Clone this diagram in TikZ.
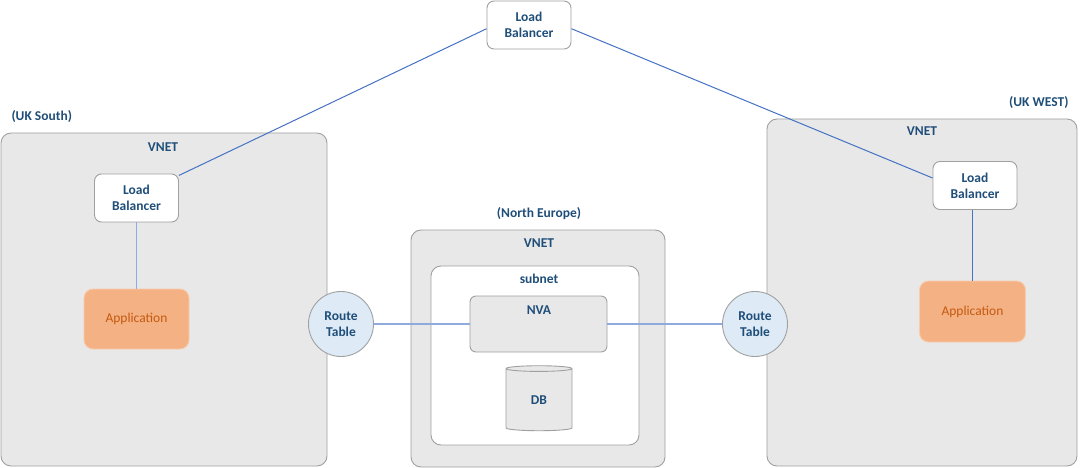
\documentclass[tikz,border=0pt]{standalone}
\usepackage{fontspec}
\setmainfont{Carlito}
\usetikzlibrary{shapes.geometric}
\definecolor{txtblue}{HTML}{1F4E79}
\definecolor{vnetgray}{HTML}{E8E8E8}
\definecolor{edgegray}{HTML}{A0A0A0}
\definecolor{appfill}{HTML}{F4B183}
\definecolor{appedge}{HTML}{F8CBAD}
\definecolor{apptxt}{HTML}{C55A11}
\definecolor{rtfill}{HTML}{DEEBF7}
\definecolor{linkblue}{HTML}{4472C4}
\definecolor{linklight}{HTML}{8FAADC}
\begin{document}
\begin{tikzpicture}[
    x=1pt, y=-1pt,
    every node/.style={font=\fontsize{13.5}{16}\selectfont\bfseries, text=txtblue, align=center},
    region/.style={
        rectangle,
        rounded corners=10pt,
        draw=edgegray,
        line width=0.9pt,
        fill=#1
    },
    region/.default=vnetgray,
    lb/.style={
        rectangle,
        rounded corners=7pt,
        minimum width=84pt,
        minimum height=48pt,
        draw=edgegray,
        line width=0.9pt,
        fill=white
    },
    app/.style={
        rectangle,
        rounded corners=9pt,
        minimum width=105pt,
        minimum height=60pt,
        draw=appedge,
        line width=0.9pt,
        fill=appfill,
        font=\fontsize{13.5}{16}\selectfont,
        text=apptxt
    },
    rt/.style={
        circle,
        minimum size=65pt,
        inner sep=0pt,
        draw=edgegray,
        line width=0.9pt,
        fill=rtfill
    },
    link/.style={draw=linkblue, line width=1pt},
    route/.style={draw=linklight, line width=1.6pt}
]
\useasboundingbox (0,0) rectangle (1080,468);

% regions
\node[region, minimum width=326pt, minimum height=333pt] (vnetS) at (164,299.5) {};
\node[region, minimum width=254pt, minimum height=237pt] (vnetN) at (538,348.5) {};
\node[region=white, minimum width=208pt, minimum height=179pt] (subnet) at (535,355.5) {};
\node[region, rounded corners=6pt, minimum width=137pt, minimum height=56pt] (nva) at (538.5,324) {};
\node[region, minimum width=310pt, minimum height=347pt] (vnetW) at (922,292.5) {};

\node[anchor=west] (locS) at (8,117) {(UK South)};
\node (locN) at (539,214) {(North Europe)};
\node[anchor=east] (locW) at (1072,103) {(UK WEST)};

\node (vnetStxt) at (163,147) {VNET};
\node (vnetNtxt) at (539,243) {VNET};
\node (vnetWtxt) at (922,131) {VNET};
\node (subnettxt) at (539,279) {subnet};
\node (nvatxt) at (539,310) {NVA};

% nodes
\node[lb] (lbTop) at (529,25) {Load\\Balancer};
\node[lb] (lbS) at (136.5,198) {Load\\Balancer};
\node[lb] (lbW) at (975,185.5) {Load\\Balancer};

\node[app] (appS) at (136.5,319) {Application};
\node[app, minimum width=106pt, minimum height=61pt] (appW) at (972.5,311.5) {Application};

\node[rt] (rtS) at (341,324) {Route\\Table};
\node[rt] (rtW) at (755,324) {Route\\Table};

\node[cylinder, shape border rotate=90, aspect=0.25, minimum width=66pt, minimum height=65pt,
      draw=edgegray, line width=0.9pt, fill=vnetgray] (db) at (539,400.5) {DB};

% links
\draw[link] (lbTop.185) -- (lbS.28);
\draw[link] (lbTop.-5) -- (lbW.170);
\draw[route] (lbS) -- (appS);
\draw[link] (appW.north) -- (appW.north |- lbW.south);
\draw[route] (rtS) -- (nva);
\draw[route] (nva) -- (rtW);

\end{tikzpicture}
\end{document}
